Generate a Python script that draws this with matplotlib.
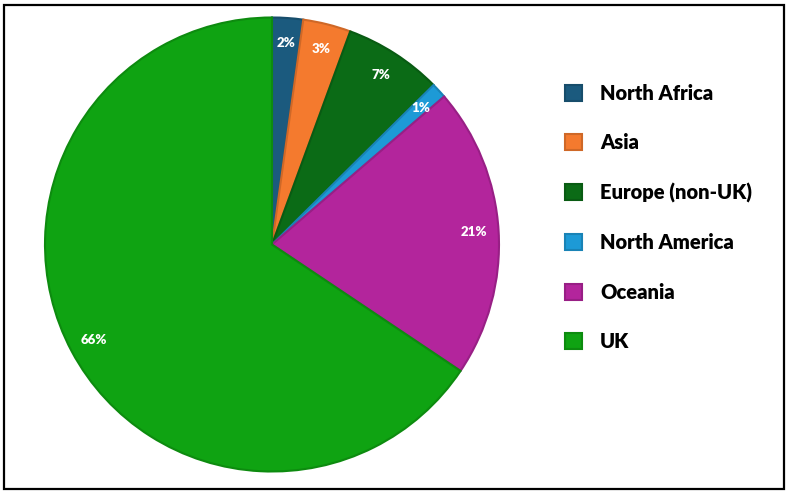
import matplotlib
matplotlib.use("Agg")
import matplotlib.pyplot as plt
import matplotlib.patches as mpatches
from matplotlib.colors import to_rgb

categories = ["North Africa", "Asia", "Europe (non-UK)", "North America", "Oceania", "UK"]
values = [2.2, 3.4, 7.0, 1.1, 20.7, 65.6]
colors = ["#1b5a7e", "#f47a2e", "#0b6b16", "#1d9ad6", "#b3259c", "#0fa312"]

W, H = 789, 495
fig = plt.figure(figsize=(W / 100, H / 100), dpi=100)
fig.patch.set_facecolor("white")

cx, cy, r = 272, 244.5, 227
ax = fig.add_axes([(cx - r) / W, (H - cy - r) / H, 2 * r / W, 2 * r / H])
wedges, texts, autotexts = ax.pie(
    values, colors=colors, startangle=90, counterclock=False,
    autopct="%.0f%%", pctdistance=0.89, radius=1.0,
    wedgeprops=dict(linewidth=1.5),
    textprops=dict(color="white", fontsize=9.5, fontweight="heavy", family=["Lato", "DejaVu Sans"]),
)
for w, c in zip(wedges, colors):
    rgb = to_rgb(c)
    w.set_edgecolor(tuple(v * 0.85 for v in rgb))
ax.set_xlim(-1, 1)
ax.set_ylim(-1, 1)
ax.set_aspect("equal")
ax.axis("off")

leg = fig.legend(
    wedges, categories, loc="upper left",
    bbox_to_anchor=(565 / W, (H - 84) / H),
    frameon=False, borderpad=0, borderaxespad=0,
    handlelength=0.85, handleheight=0.85, handletextpad=0.9,
    labelspacing=1.51,
    prop=dict(family=["Lato", "DejaVu Sans"], weight="heavy", size=14.5),
)

rect = mpatches.Rectangle((4 / W, (H - 489) / H), 780 / W, 484 / H,
                          transform=fig.transFigure, fill=False,
                          edgecolor="black", linewidth=1.6)
fig.patches.append(rect)

fig.savefig("out.png", dpi=100, facecolor="white")
